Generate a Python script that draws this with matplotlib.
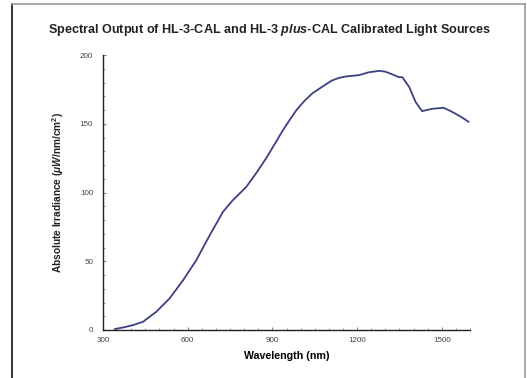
import numpy as np
import matplotlib.pyplot as plt
from matplotlib.ticker import MultipleLocator
from matplotlib.lines import Line2D

plt.rcParams['font.family'] = ['Liberation Sans', 'DejaVu Sans']
plt.rcParams['mathtext.fontset'] = 'custom'
plt.rcParams['mathtext.rm'] = 'Liberation Sans:bold'
plt.rcParams['mathtext.it'] = 'Liberation Sans:bold:italic'

# spectral output
wavelength = [342, 375, 407, 442, 489, 536, 583, 631, 678, 725, 760, 807,
              842, 878, 913, 936, 960, 985, 1010, 1040, 1076, 1110, 1136, 1160,
              1207, 1240, 1278, 1300, 1325, 1348, 1360, 1384, 1407, 1430,
              1466, 1507, 1536, 1565, 1595]
irradiance = [0.7, 2, 3.6, 6, 13.3, 23, 36, 51, 69, 86, 94.5, 104,
              114, 125, 137, 145, 152.5, 160, 166, 172, 177, 181.5, 183.5, 184.5,
              185.5, 187.5, 188.6, 188, 186, 184, 184, 177, 166, 159.3,
              161, 161.7, 158.8, 155.5, 151.5]

fig = plt.figure(figsize=(5.27, 3.78), dpi=100)
ax = fig.add_axes([0.1954, 0.127, 0.6966, 0.727])

ax.plot(wavelength, irradiance, color='#3c4180', lw=1.3,
        solid_joinstyle='round', solid_capstyle='round')

ax.set_xlim(300, 1600)
ax.set_ylim(0, 200)
ax.xaxis.set_major_locator(MultipleLocator(300))
ax.xaxis.set_minor_locator(MultipleLocator(50))
ax.yaxis.set_major_locator(MultipleLocator(50))
ax.yaxis.set_minor_locator(MultipleLocator(10))
ax.tick_params(which='both', direction='in', labelsize=5.8, labelcolor='#444444',
               color='#888888')
ax.tick_params(axis='x', which='major', length=2.5, pad=5)
ax.tick_params(axis='y', which='major', length=2.5, pad=7)
ax.tick_params(which='minor', length=1.5)
for s in ['top', 'right']:
    ax.spines[s].set_visible(False)
for s in ['left', 'bottom']:
    ax.spines[s].set_linewidth(1.0)
    ax.spines[s].set_color('#222222')

ax.set_xlabel('Wavelength (nm)', fontsize=7.7, fontweight='bold', labelpad=5)
ax.set_ylabel(r'Absolute Irradiance ($\it{\mu W}$/nm/cm$^2$)', fontsize=7.3,
              fontweight='bold', labelpad=10, color='#222222')

fig.text(0.512, 0.921,
         r'Spectral Output of HL-3-CAL and HL-3 $\it{plus}$-CAL Calibrated Light Sources',
         ha='center', va='center', fontsize=9.1, fontweight='bold', color='#222222')

# page frame
fig.add_artist(Line2D([12/527, 12/527], [0, 1 - 3.5/378], transform=fig.transFigure,
                      color='#111111', lw=1.2))
fig.add_artist(Line2D([12/527, 525/527], [1 - 3.5/378, 1 - 3.5/378],
                      transform=fig.transFigure, color='#999999', lw=1.2))
fig.add_artist(Line2D([525/527, 525/527], [0, 1 - 3.5/378], transform=fig.transFigure,
                      color='#999999', lw=1.2))

fig.savefig('out.png', dpi=100)
